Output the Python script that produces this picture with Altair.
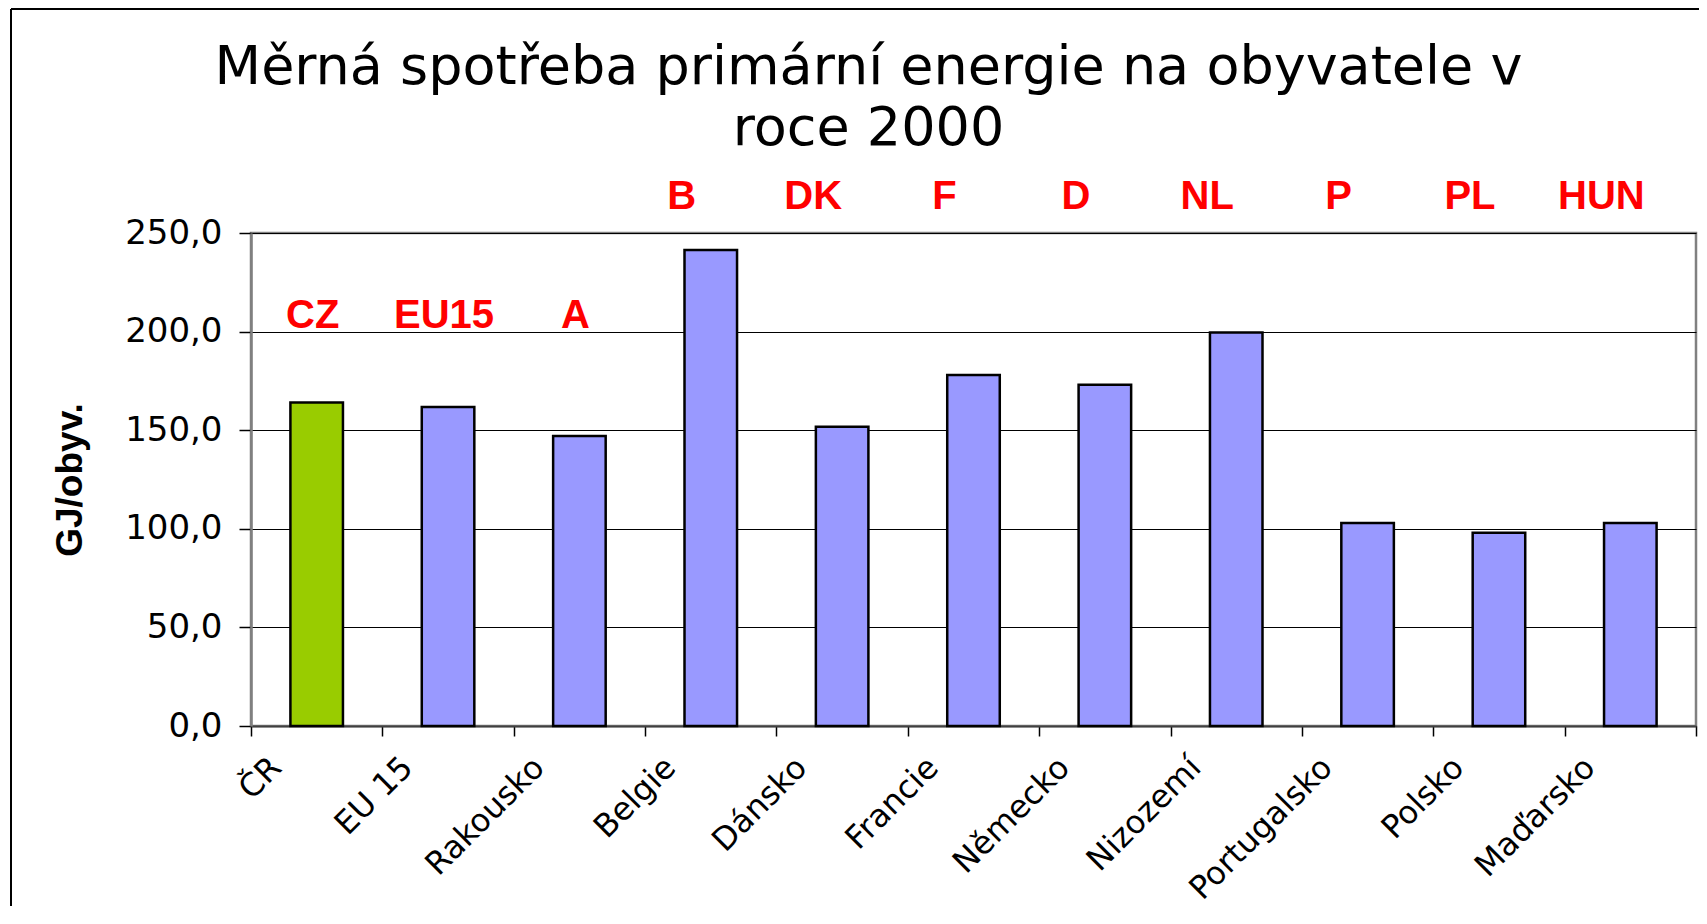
import altair as alt
import pandas as pd

countries = ["ČR", "EU 15", "Rakousko", "Belgie", "Dánsko", "Francie",
             "Německo", "Nizozemí", "Portugalsko", "Polsko", "Maďarsko"]
values = [164.0, 161.8, 147.0, 241.4, 151.8, 178.0, 173.0, 199.6, 103.0, 98.0, 103.0]
codes = ["CZ", "EU15", "A", "B", "DK", "F", "D", "NL", "P", "PL", "HUN"]
highlight = ["ČR"]
lower_codes = ["CZ", "EU15", "A"]
y_ticks = [0, 50, 100, 150, 200, 250]
y_title = "GJ/obyv."

df = pd.DataFrame({"country": countries, "value": values, "code": codes})
df["group"] = ["hl" if c in highlight else "other" for c in countries]

x_enc = alt.X(
    "country:N", sort=countries, title=None,
    scale=alt.Scale(paddingInner=0, paddingOuter=0),
    axis=alt.Axis(
        labelAngle=-45, labelAlign="right", labelBaseline="middle",
        labelOffset=-41, labelPadding=26, labelFont="DejaVu Sans",
        labelFontSize=32, labelColor="black", labelLimit=0,
        tickBand="extent", tickSize=10, tickColor="black", tickWidth=1.5,
        domainColor="#404040", domainWidth=2, grid=False,
    ),
)

y_enc = alt.Y(
    "value:Q",
    scale=alt.Scale(domain=[0, 250], nice=False, zero=True),
    title=y_title,
    axis=alt.Axis(
        values=y_ticks,
        labelExpr="replace(format(datum.value, '.1f'), '.', ',')",
        grid=True, gridColor="black", gridWidth=1,
        domainColor="#808080", domainWidth=2.5,
        tickColor="black", tickSize=12, tickWidth=1.5, labelPadding=17,
        labelFont="DejaVu Sans", labelFontSize=34, labelColor="black",
        titleFont="Liberation Sans", titleFontSize=37,
        titleFontWeight="bold", titleColor="black", titleAngle=270,
        titleX=-181, titleY=246.5, titleAlign="center", titleBaseline="middle",
    ),
)

bars = alt.Chart(df).mark_bar(
    width=alt.RelativeBandSize(0.4), stroke="black", strokeWidth=2.5
).encode(
    x=x_enc,
    y=y_enc,
    color=alt.Color("group:N",
                    scale=alt.Scale(domain=["hl", "other"], range=["#99CC00", "#9999FF"]),
                    legend=None),
)

text_style = dict(font="Liberation Sans", fontSize=40, fontWeight="bold",
                  color="#FF0000", baseline="alphabetic", align="center")

labels_low = alt.Chart(df).transform_filter(
    alt.FieldOneOfPredicate(field="code", oneOf=lower_codes)
).mark_text(dx=-4, **text_style).encode(
    x=alt.X("country:N", sort=countries),
    y=alt.YDatum(202, title=y_title),
    text="code:N",
)

labels_high = alt.Chart(df).transform_filter(
    ~alt.FieldOneOfPredicate(field="code", oneOf=lower_codes)
).mark_text(dx=-29, **text_style).encode(
    x=alt.X("country:N", sort=countries),
    y=alt.YDatum(262, title=y_title),
    text="code:N",
)

one = pd.DataFrame({"k": [0]})
frame_top = alt.Chart(one).mark_rule(color="black", strokeWidth=2).encode(
    x=alt.value(-240), x2=alt.value(1460), y=alt.value(-224))
frame_left = alt.Chart(one).mark_rule(color="black", strokeWidth=2).encode(
    x=alt.value(-240), y=alt.value(-224), y2=alt.value(700))

chart = alt.layer(bars, labels_low, labels_high, frame_top, frame_left).properties(
    width=1445, height=493,
    padding={"left": 243, "top": 225, "right": 3, "bottom": 180},
    autosize=alt.AutoSizeParams(type="none"),
    background="white",
    title=alt.TitleParams(
        ["Měrná spotřeba primární energie na obyvatele v", "roce 2000"],
        font="DejaVu Sans", fontSize=54, fontWeight="normal", color="black",
        lineHeight=61, anchor="middle", dx=-105, offset=-148,
    ),
).configure_view(stroke="#808080", strokeWidth=2.5)

chart.save("out.html", embed_options={"renderer": "svg", "actions": False})
